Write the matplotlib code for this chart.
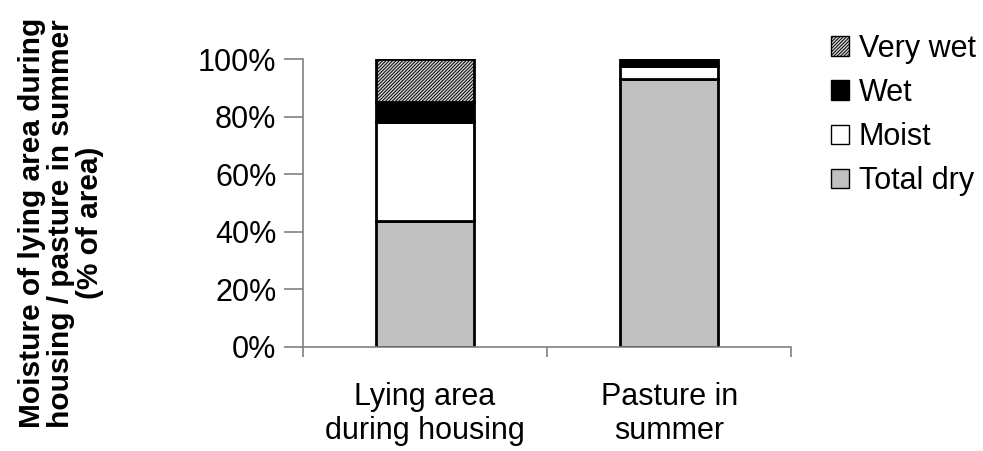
import numpy as np
import matplotlib.pyplot as plt
from matplotlib.patches import Patch

plt.rcParams['font.family'] = ['Liberation Sans', 'DejaVu Sans']
plt.rcParams['hatch.linewidth'] = 0.7

# 습도 구분별 면적 비율 (%)
categories = ['Lying area\nduring housing', 'Pasture in\nsummer']
total_dry = [43.7, 93.0]
moist = [34.5, 4.7]
wet = [6.8, 2.3]
very_wet = [15.0, 0.0]

fig = plt.figure(figsize=(9.83, 4.51), dpi=100)
ax = fig.add_axes([0.308, 0.231, 0.497, 0.638])

x = np.arange(len(categories))
w = 0.4
b1 = np.array(total_dry)
b2 = b1 + np.array(moist)
b3 = b2 + np.array(wet)

ax.bar(x, total_dry, w, color='#c0c0c0', edgecolor='black', linewidth=2)
ax.bar(x, moist, w, bottom=b1, color='white', edgecolor='black', linewidth=2)
ax.bar(x, wet, w, bottom=b2, color='black', edgecolor='black', linewidth=2)
ax.bar(x, very_wet, w, bottom=b3, color='#d4d4d4', edgecolor='black',
       hatch='//////////', linewidth=2)

ax.set_xlim(-0.5, 1.5)
ax.set_ylim(0, 100)
ax.set_yticks(np.arange(0, 101, 20))
ax.set_yticklabels([f'{v}%' for v in range(0, 101, 20)], fontsize=22)
ax.set_xticks([-0.5, 0.5, 1.5])
ax.set_xticklabels([])
ax.set_xticks(x, minor=True)
ax.set_xticklabels(categories, minor=True, fontsize=22, linespacing=1.2)
ax.tick_params(axis='x', which='minor', length=0, pad=25)
ax.tick_params(axis='x', which='major', direction='out', length=7, color='#808080', width=1.2)
ax.tick_params(axis='y', direction='out', length=14, color='#808080', width=1.2, pad=5)

for s in ['top', 'right']:
    ax.spines[s].set_visible(False)
for s in ['left', 'bottom']:
    ax.spines[s].set_color('#808080')
    ax.spines[s].set_linewidth(1.2)

# y축 제목 (세 줄, 굵게)
fig.text(0.062, 0.505, 'Moisture of lying area during\nhousing / pasture in summer\n(% of area)',
         rotation=90, ha='center', va='center', multialignment='center',
         fontsize=21.5, fontweight='bold', linespacing=1.05)

handles = [
    Patch(facecolor='#d4d4d4', edgecolor='black', hatch='//////////', label='Very wet'),
    Patch(facecolor='black', edgecolor='black', label='Wet'),
    Patch(facecolor='white', edgecolor='black', label='Moist'),
    Patch(facecolor='#c0c0c0', edgecolor='black', label='Total dry'),
]
fig.legend(handles=handles, loc='upper left', bbox_to_anchor=(0.833, 0.952),
           frameon=False, fontsize=22, handlelength=0.6, handleheight=0.6,
           handletextpad=0.3, labelspacing=0.46, borderaxespad=0)

fig.savefig('out.png', dpi=100)
